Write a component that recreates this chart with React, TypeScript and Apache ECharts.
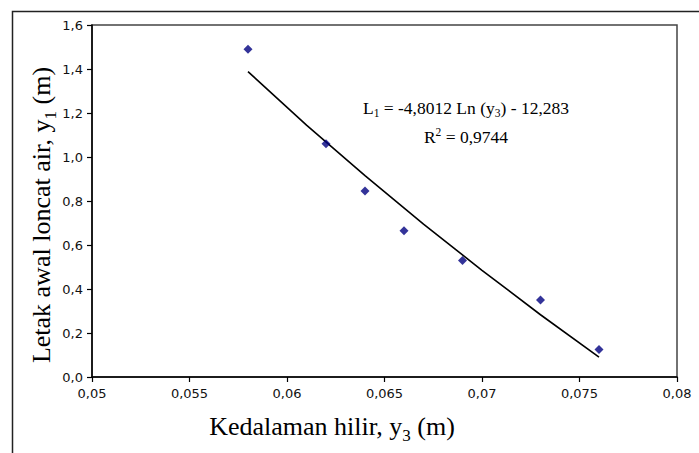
import React, { useEffect, useRef } from "react";
import * as echarts from "echarts";

const depthY3 = [0.058, 0.062, 0.064, 0.066, 0.069, 0.073, 0.076];
const jumpStartL1 = [1.49, 1.06, 0.845, 0.665, 0.53, 0.35, 0.125];
// trendline points (L1 = -4,8012 Ln(y3) - 12,283), read at sample depths
const trendX = [0.058, 0.061, 0.064, 0.067, 0.07, 0.073, 0.076];
const trendY = [1.388, 1.145, 0.915, 0.695, 0.485, 0.283, 0.09];
const xTicks = ["0,05", "0,055", "0,06", "0,065", "0,07", "0,075", "0,08"];
const xTitle = "{a|Kedalaman hilir, y}{s|3}{a| (m)}";
const yTitle = "{a|Letak awal loncat air, y}{s|1}{a| (m)}";

export default function App() {
  const ref = useRef<HTMLDivElement>(null);
  useEffect(() => {
    if (!ref.current) return;
    const chart = echarts.init(ref.current, null, { renderer: "svg" });
    const serif = "'Liberation Serif', 'Times New Roman', serif";
    const sans = "'DejaVu Sans', Verdana, sans-serif";
    const titleRich = {
      a: { fontFamily: serif, fontSize: 26, fill: "#000", verticalAlign: "bottom", lineHeight: 30 },
      s: { fontFamily: serif, fontSize: 17, fill: "#000", verticalAlign: "bottom", lineHeight: 22, padding: [0, 0, -5, 0] },
    };
    chart.setOption({
      animation: false,
      backgroundColor: "#ffffff",
      grid: { left: 92, top: 25, right: 22, bottom: 76, show: true, borderColor: "#444", borderWidth: 1.5, backgroundColor: "transparent" },
      xAxis: {
        type: "value",
        min: 0.05,
        max: 0.08,
        interval: 0.005,
        axisLine: { show: true, onZero: false, lineStyle: { color: "#000", width: 1.5 } },
        axisTick: { show: true, length: 5, inside: false, lineStyle: { color: "#000", width: 1.2 } },
        splitLine: { show: false },
        axisLabel: {
          margin: 10,
          color: "#111",
          fontFamily: sans,
          fontSize: 13,
          formatter: (v: number) => xTicks[Math.round((v - 0.05) / 0.005)] ?? "",
        },
      },
      yAxis: {
        type: "value",
        min: 0,
        max: 1.6,
        interval: 0.2,
        axisLine: { show: true, onZero: false, lineStyle: { color: "#000", width: 1.5 } },
        axisTick: { show: true, length: 5, inside: false, lineStyle: { color: "#000", width: 1.2 } },
        splitLine: { show: false },
        axisLabel: {
          margin: 9,
          color: "#111",
          fontFamily: sans,
          fontSize: 13,
          formatter: (v: number) => v.toFixed(1).replace(".", ","),
        },
      },
      graphic: [
        {
          type: "rect",
          shape: { x: 12.5, y: 11.5, width: 720, height: 500 },
          style: { fill: "none", stroke: "#222", lineWidth: 1.5 },
          silent: true,
        },
        {
          type: "text",
          x: 332,
          y: 424,
          style: { text: xTitle, align: "center", verticalAlign: "middle", rich: titleRich },
        },
        {
          type: "text",
          x: 39,
          y: 215,
          rotation: Math.PI / 2,
          style: { text: yTitle, align: "center", verticalAlign: "middle", rich: titleRich },
        },
        {
          type: "text",
          x: 466,
          y: 107,
          style: {
            text: "{a|L}{s|1}{a| = -4,8012 Ln (y}{s|3}{a|) - 12,283}",
            align: "center",
            verticalAlign: "middle",
            rich: {
              a: { fontFamily: serif, fontSize: 17.5, fill: "#000", verticalAlign: "bottom", lineHeight: 20 },
              s: { fontFamily: serif, fontSize: 11.5, fill: "#000", verticalAlign: "bottom", lineHeight: 15, padding: [0, 0, -2, 0] },
            },
          },
        },
        {
          type: "text",
          x: 466,
          y: 136,
          style: {
            text: "{a|R}{p|2}{a| = 0,9744}",
            align: "center",
            verticalAlign: "middle",
            rich: {
              a: { fontFamily: serif, fontSize: 17.5, fill: "#000", verticalAlign: "bottom", lineHeight: 20 },
              p: { fontFamily: serif, fontSize: 11.5, fill: "#000", verticalAlign: "top", lineHeight: 15 },
            },
          },
        },
      ],
      series: [
        {
          type: "line",
          data: trendX.map((x, i) => [x, trendY[i]]),
          symbol: "none",
          smooth: false,
          lineStyle: { color: "#000", width: 1.6 },
          z: 2,
        },
        {
          type: "scatter",
          data: depthY3.map((x, i) => [x, jumpStartL1[i]]),
          symbol: "diamond",
          symbolSize: [9, 9],
          itemStyle: { color: "#000080" },
          z: 3,
        },
      ],
    });
    return () => chart.dispose();
  }, []);
  return (
    <div
      ref={ref}
      style={{ position: "absolute", left: 0, top: 0, width: 699, height: 453, overflow: "hidden" }}
    />
  );
}
